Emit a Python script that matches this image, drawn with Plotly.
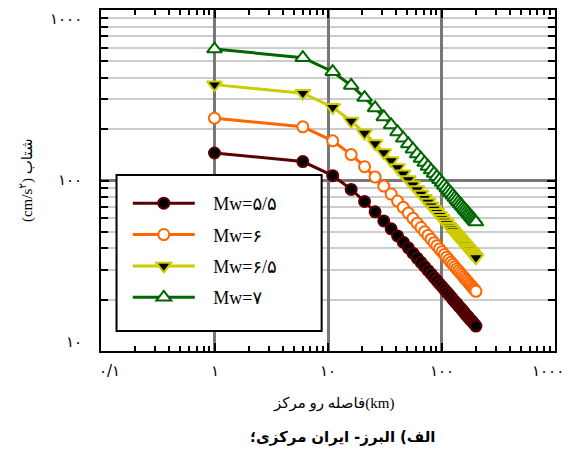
import plotly.graph_objects as go

# epicentral distance (km)
distance_km = [1, 6, 11, 16, 21, 26, 31, 36, 41, 46, 51, 56, 61, 66, 71, 76, 81, 86, 91, 96,
               101, 106, 111, 116, 121, 126, 131, 136, 141, 146, 151, 156, 161, 166, 171, 176,
               181, 186, 191, 196, 201]

# acceleration (cm/s^2)
acc_mw55 = [145.0, 129.1, 106.8, 88.7, 75.3, 65.5, 57.9, 52.1, 47.3, 43.5, 40.3, 37.5, 35.1, 33.1,
            31.3, 29.7, 28.3, 27.0, 25.9, 24.8, 23.9, 23.0, 22.2, 21.5, 20.8, 20.1, 19.5, 19.0,
            18.4, 18.0, 17.5, 17.1, 16.6, 16.2, 15.9, 15.5, 15.2, 14.9, 14.6, 14.3, 14.0]
acc_mw60 = [232, 206.5, 170.9, 141.9, 120.5, 104.7, 92.7, 83.3, 75.7, 69.6, 64.4, 60.0, 56.2, 53.0,
            50.1, 47.6, 45.3, 43.2, 41.4, 39.7, 38.2, 36.8, 35.5, 34.3, 33.2, 32.2, 31.2, 30.3,
            29.5, 28.7, 28.0, 27.3, 26.6, 26.0, 25.4, 24.8, 24.3, 23.8, 23.3, 22.9, 22.4]
acc_mw65 = [365, 325.0, 268.9, 223.3, 189.7, 164.8, 145.9, 131.0, 119.2, 109.4, 101.3, 94.4, 88.5,
            83.4, 78.8, 74.8, 71.2, 68.0, 65.2, 62.5, 60.1, 57.9, 55.9, 54.0, 52.3, 50.7, 49.1,
            47.7, 46.4, 45.2, 44.0, 42.9, 41.9, 40.9, 40.0, 39.1, 38.2, 37.4, 36.7, 36.0, 35.3]
acc_mw70 = [590, 525.3, 434.7, 360.9, 306.6, 266.3, 235.8, 211.8, 192.6, 176.9, 163.8, 152.6, 143.0,
            134.8, 127.4, 121.0, 115.2, 110.0, 105.3, 101.1, 97.2, 93.6, 90.3, 87.3, 84.5, 81.9,
            79.4, 77.2, 75.0, 73.0, 71.2, 69.4, 67.7, 66.1, 64.6, 63.2, 61.8, 60.5, 59.3, 58.1, 57.0]

series_names = ["\u00a0\u00a0\u00a0Mw=۵/۵", "\u00a0\u00a0\u00a0Mw=۶", "\u00a0\u00a0\u00a0Mw=۶/۵", "\u00a0\u00a0\u00a0Mw=۷"]

x_tickvals = [0.1, 1, 10, 100, 1000]
x_ticktext = ["۰/۱", "۱", "۱۰", "۱۰۰", "۱۰۰۰"]
y_tickvals = [10, 100, 1000]
y_ticktext = ["۱۰", "۱۰۰", "۱۰۰۰"]


def words(ws, bold=False):
    # each word in its own span so the words keep the left-to-right order of the chart
    tag = "b" if bold else "span"
    return " ".join("<%s>%s</%s>" % (tag, w, tag) for w in ws)


x_title = words(["فاصله", "رو", "مرکز"]) + "(km)"
y_title = "(cm/s<sup>۲</sup>) شتاب"
sub_title = words(["الف)", "البرز-", "ایران"], bold=True) + " <b>مرکزی</b><b>؛</b>"

x_minor = [m * 10 ** e for e in (-1, 0, 1, 2) for m in range(2, 10)]
y_minor = [m * 10 ** e for e in (1, 2) for m in range(2, 10)]

styles = [
    dict(line=dict(color="#5a0000", width=3),
         marker=dict(symbol="circle", size=11, color="black", line=dict(color="#5a0000", width=2))),
    dict(line=dict(color="#ff6600", width=3),
         marker=dict(symbol="circle", size=11, color="white", line=dict(color="#ff6600", width=2))),
    dict(line=dict(color="#cccc00", width=3),
         marker=dict(symbol="triangle-down", size=13, color="black", line=dict(color="#cccc00", width=2))),
    dict(line=dict(color="#006600", width=3),
         marker=dict(symbol="triangle-up", size=13, color="white", line=dict(color="#006600", width=2))),
]

fig = go.Figure()
for name, vals, st, grp in zip(series_names, [acc_mw55, acc_mw60, acc_mw65, acc_mw70], styles, "abcd"):
    fig.add_trace(go.Scatter(x=distance_km, y=vals, mode="lines+markers", name=name,
                             legendgroup=grp, **st))

# tick labels placed as text beside the axes (end labels pulled slightly inward like the original)
y_label_pos = [0.026, 0.501, 0.975]
x_label_pos = [0.019, 0.25, 0.5, 0.75, 0.984]
annotations = [
    dict(text=t, xref="paper", yref="paper", x=-0.038, y=p, showarrow=False,
         xanchor="right", yanchor="middle", font=dict(family="DejaVu Sans", size=15))
    for t, p in zip(y_ticktext, y_label_pos)
]
annotations += [
    dict(text=t, xref="paper", yref="paper", x=p, y=-0.059, showarrow=False,
         xanchor="center", yanchor="middle", font=dict(family="DejaVu Sans", size=15))
    for t, p in zip(x_ticktext, x_label_pos)
]
annotations += [
    dict(text=x_title, xref="paper", yref="paper", x=0.513, y=-0.155, showarrow=False,
         xanchor="center", yanchor="middle", font=dict(family="Liberation Serif, DejaVu Sans", size=15)),
    dict(text=sub_title, xref="paper", yref="paper", x=0.532, y=-0.252, showarrow=False,
         xanchor="center", yanchor="middle", font=dict(family="DejaVu Sans", size=15)),
    dict(text=y_title, xref="paper", yref="paper", x=-0.164, y=0.5, showarrow=False,
         textangle=-90, xanchor="center", yanchor="middle",
         font=dict(family="Liberation Serif, DejaVu Sans", size=15)),
]

fig.update_layout(
    width=573, height=459,
    margin=dict(l=93, r=26, t=2, b=116, autoexpand=False),
    paper_bgcolor="white", plot_bgcolor="white",
    font=dict(family="Liberation Serif, DejaVu Sans", color="black", size=14),
    showlegend=True,
    legend=dict(x=0.059, y=0.487, xanchor="left", yanchor="top",
                bgcolor="rgba(0,0,0,0)", borderwidth=0,
                font=dict(family="Liberation Serif, DejaVu Sans", size=18),
                traceorder="grouped", tracegroupgap=5, itemwidth=62),
    xaxis=dict(type="log", range=[-1, 3], tickmode="array", tickvals=x_tickvals, ticktext=x_ticktext,
               automargin=False, showticklabels=False,
               showline=True, linecolor="black", linewidth=2, mirror="allticks",
               ticks="inside", ticklen=8, tickwidth=1.5, tickcolor="black",
               showgrid=True, gridcolor="#777777", gridwidth=3, zeroline=False,
               minor=dict(tickvals=x_minor, ticks="inside", ticklen=5, tickwidth=1.5,
                          tickcolor="black", showgrid=False)),
    yaxis=dict(type="log", range=[1, 3], tickmode="array", tickvals=y_tickvals, ticktext=y_ticktext,
               automargin=False, showticklabels=False,
               showline=True, linecolor="black", linewidth=2, mirror="allticks",
               ticks="inside", ticklen=8, tickwidth=1.5, tickcolor="black",
               showgrid=True, gridcolor="#777777", gridwidth=2.5, zeroline=False,
               minor=dict(tickvals=y_minor, ticks="inside", ticklen=7, tickwidth=1.5,
                          tickcolor="black", showgrid=True, gridcolor="#cccccc", gridwidth=1.5)),
    shapes=[dict(type="rect", xref="paper", yref="paper", x0=0.0342, x1=0.486, y0=0.0587, y1=0.516,
                 line=dict(color="black", width=2), fillcolor="white", layer="above")],
    annotations=annotations,
)

fig.write_html("out.html")
